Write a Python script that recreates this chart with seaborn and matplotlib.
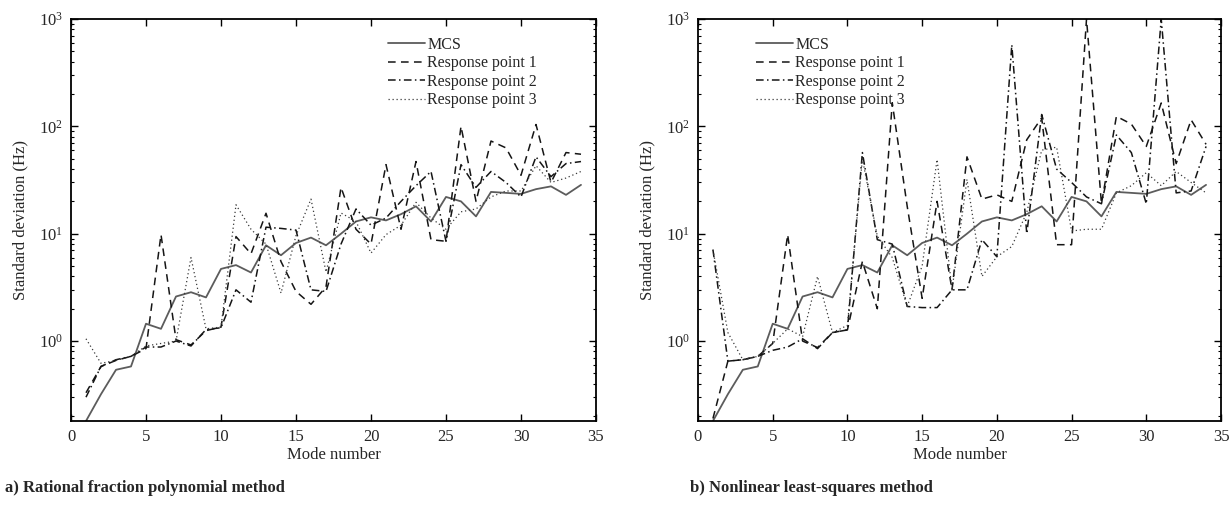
import matplotlib
matplotlib.use("Agg")
import matplotlib.pyplot as plt
import numpy as np
import pandas as pd
import seaborn as sns
from matplotlib.ticker import LogLocator, NullFormatter, FixedLocator

# Mode indices
modes = list(range(1, 35))

# Monte Carlo reference standard deviations (Hz)
mcs = [0.18, 0.32, 0.54, 0.58, 1.45, 1.30, 2.60, 2.85, 2.55, 4.70, 5.10, 4.35,
       7.80, 6.30, 8.20, 9.20, 7.80, 10.0, 13.0, 14.2, 13.3, 15.2, 18.0, 13.0,
       22.0, 20.0, 14.5, 24.5, 24.0, 23.5, 26.0, 27.6, 23.0, 28.5]

# a) Rational fraction polynomial method
rfp_point1 = [0.33, 0.58, 0.66, 0.72, 0.85, 9.8, 1.03, 0.92, 1.25, 1.35, 9.4, 6.5,
              15.5, 5.5, 2.9, 2.2, 3.2, 27.0, 11.0, 8.0, 44.0, 11.0, 47.0, 8.8,
              8.5, 100.0, 20.0, 73.0, 63.0, 35.0, 104.0, 30.0, 57.0, 55.0]
rfp_point2 = [0.30, 0.58, 0.67, 0.72, 0.88, 0.88, 1.0, 0.90, 1.28, 1.33, 3.0, 2.3,
              11.5, 11.2, 10.8, 3.0, 2.9, 8.0, 17.0, 12.0, 14.0, 20.0, 28.0, 38.0,
              8.5, 44.0, 27.0, 38.0, 30.0, 22.0, 52.0, 34.0, 45.0, 47.0]
rfp_point3 = [1.05, 0.62, 0.66, 0.72, 0.90, 0.95, 1.0, 6.0, 1.3, 1.35, 18.6, 11.0,
              8.0, 2.8, 9.6, 21.0, 4.4, 15.6, 13.0, 6.6, 9.8, 12.0, 19.6, 14.0,
              11.0, 16.0, 17.0, 22.0, 25.0, 25.0, 43.0, 30.0, 33.0, 38.0]

# b) Nonlinear least-squares method
nls_point1 = [0.19, 0.65, 0.67, 0.72, 0.95, 9.8, 1.0, 0.87, 1.2, 1.27, 5.5, 2.0,
              166.0, 18.0, 2.5, 20.0, 3.0, 52.0, 21.0, 23.0, 20.0, 75.0, 120.0, 7.9,
              7.9, 1000.0, 19.0, 124.0, 105.0, 65.0, 165.0, 45.0, 115.0, 68.0]
nls_point2 = [7.1, 0.65, 0.67, 0.72, 0.82, 0.88, 1.05, 0.85, 1.2, 1.27, 57.0, 8.8,
              8.0, 2.1, 2.05, 2.05, 3.0, 3.0, 8.8, 6.1, 575.0, 10.0, 129.0, 40.0,
              30.0, 22.0, 19.0, 83.0, 57.0, 19.0, 1000.0, 24.0, 25.0, 65.0]
nls_point3 = [7.1, 1.2, 0.67, 0.72, 0.95, 1.3, 1.1, 4.0, 1.2, 1.4, 50.0, 9.5,
              6.0, 2.1, 5.0, 49.0, 3.0, 32.0, 4.0, 6.1, 7.6, 15.8, 60.0, 64.0,
              10.6, 11.0, 11.0, 24.0, 28.0, 37.0, 28.0, 38.0, 30.0, 24.0]

series_names = ["MCS", "Response point 1", "Response point 2", "Response point 3"]
panel_captions = ["a) Rational fraction polynomial method",
                  "b) Nonlinear least-squares method"]
x_ticks = [0, 5, 10, 15, 20, 25, 30, 35]

line_styles = {
    "MCS": dict(color="#5c5c5c", linewidth=1.3, linestyle="-"),
    "Response point 1": dict(color="#151515", linewidth=1.1, linestyle=(0, (5, 3.5))),
    "Response point 2": dict(color="#151515", linewidth=1.1, linestyle=(0, (5, 2.2, 1, 2.2))),
    "Response point 3": dict(color="#3a3a3a", linewidth=0.9, linestyle=(0, (1, 2.2))),
}

sns.set_style("ticks")
plt.rcParams["font.family"] = ["Liberation Serif", "DejaVu Serif"]
plt.rcParams["mathtext.fontset"] = "stix"
plt.rcParams["font.size"] = 12
plt.rcParams["axes.linewidth"] = 1.3

fig = plt.figure(figsize=(12.3, 5.05), dpi=100)
ax_a = fig.add_axes([71 / 1230, 84 / 505, 525 / 1230, 402 / 505])
ax_b = fig.add_axes([698 / 1230, 84 / 505, 523 / 1230, 402 / 505])

panels = [
    (ax_a, [mcs, rfp_point1, rfp_point2, rfp_point3], 0.604),
    (ax_b, [mcs, nls_point1, nls_point2, nls_point3], 0.111),
]

for (ax, values, legend_x), caption in zip(panels, panel_captions):
    frame = pd.DataFrame({name: vals for name, vals in zip(series_names, values)})
    frame["Mode number"] = modes
    long = frame.melt(id_vars="Mode number", var_name="series", value_name="std")
    for name in series_names:
        sub = long[long["series"] == name]
        sns.lineplot(data=sub, x="Mode number", y="std", ax=ax, label=name,
                     estimator=None, **line_styles[name])
    ax.set_yscale("log")
    ax.set_xlim(0, 35)
    ax.set_ylim(0.18, 1000)
    ax.xaxis.set_major_locator(FixedLocator(x_ticks))
    ax.yaxis.set_major_locator(LogLocator(base=10, numticks=10))
    ax.yaxis.set_minor_locator(LogLocator(base=10, subs=np.arange(2, 10), numticks=20))
    ax.yaxis.set_minor_formatter(NullFormatter())
    ax.tick_params(which="both", direction="in", top=True, right=True,
                   labelsize=12, color="black")
    ax.tick_params(which="major", length=5, width=1.0, pad=6)
    ax.tick_params(which="minor", length=2.5, width=0.8)
    for sp in ax.spines.values():
        sp.set_visible(True)
        sp.set_linewidth(1.3)
        sp.set_color("black")
    ax.set_xlabel("Mode number", fontsize=12, labelpad=1)
    ax.set_ylabel("Standard deviation (Hz)", fontsize=12, labelpad=7)
    ax.legend(loc="upper left", bbox_to_anchor=(legend_x, 0.955), frameon=False,
              fontsize=11.5, handlelength=2.3, handletextpad=0.15,
              labelspacing=0.15, borderaxespad=0, borderpad=0)
    ax.set_facecolor("white")

fig.text(5 / 1230, 1 - 488 / 505, panel_captions[0], fontsize=12,
         fontweight="bold", va="center", ha="left")
fig.text(690 / 1230, 1 - 488 / 505, panel_captions[1], fontsize=12,
         fontweight="bold", va="center", ha="left")

fig.savefig("out.png", dpi=100, facecolor="white")
